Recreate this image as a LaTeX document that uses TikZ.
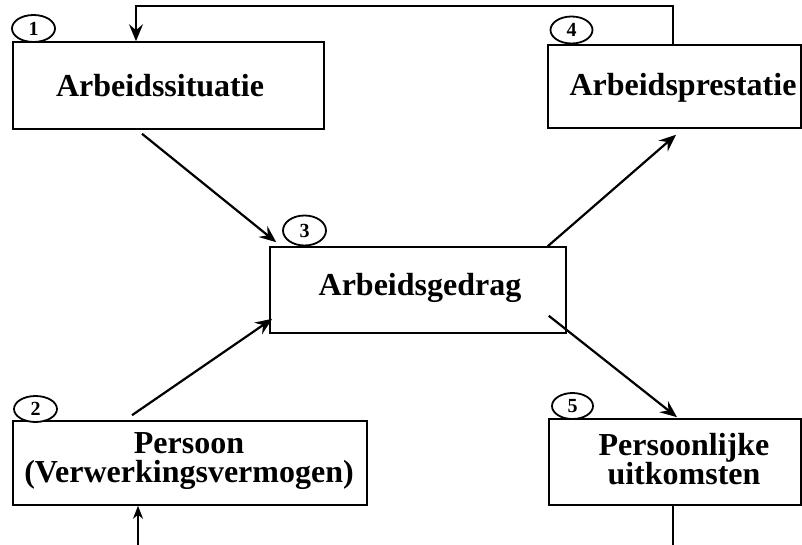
\documentclass[tikz,border=0pt]{standalone}
\usepackage{fontspec}
\setmainfont{Liberation Serif}
\usetikzlibrary{shapes.geometric,arrows.meta}
\begin{document}
\begin{tikzpicture}[x=1pt,y=-1pt,
  box/.style={draw,line width=1.6pt,rectangle,inner sep=0pt},
  lbl/.style={font=\fontsize{32}{30}\selectfont\bfseries,anchor=base,inner sep=0pt},
  num/.style={draw,line width=1.8pt,ellipse,fill=white,inner sep=0pt,font=\fontsize{20}{20}\selectfont\bfseries},
  arr/.style={line width=2.2pt,-{Stealth[length=17pt,width=14pt,inset=6pt]}},
  fb/.style={line width=1.9pt}]
\useasboundingbox (0,0) rectangle (802,545);
% boxes
\node[box,minimum width=311pt,minimum height=87pt] (b1) at (168.5,85.5) {};
\node[box,minimum width=253pt,minimum height=83pt] (b4) at (674.5,86.5) {};
\node[box,minimum width=296pt,minimum height=86pt] (b3) at (418,290) {};
\node[box,minimum width=354pt,minimum height=84pt] (b2) at (190,463) {};
\node[box,minimum width=252pt,minimum height=86pt] (b5) at (675,462) {};
% labels
\node[lbl] (l1) at (160,97) {Arbeidssituatie};
\node[lbl] (l4) at (683,96) {Arbeidsprestatie};
\node[lbl] (l3) at (420,295) {Arbeidsgedrag};
\node[lbl] (l2a) at (189,453) {Persoon};
\node[lbl] (l2b) at (189,482) {(Verwerkingsvermogen)};
\node[lbl] (l5a) at (684,455) {Persoonlijke};
\node[lbl] (l5b) at (684,484) {uitkomsten};
% numbers
\node[num,minimum width=43pt,minimum height=27pt] (n1) at (33.5,28.5) {1};
\node[num,minimum width=42pt,minimum height=27pt] (n4) at (571.5,30) {4};
\node[num,minimum width=43pt,minimum height=30pt] (n3) at (304.5,230.5) {3};
\node[num,minimum width=43pt,minimum height=26pt] (n2) at (35.5,409) {2};
\node[num,minimum width=41pt,minimum height=26pt] (n5) at (572.5,406) {5};
% arrows
\draw[arr] ([shift={(-26.5,4)}]b1.south) -- ([shift={(7,-4)}]b3.north west);
\draw[arr] ([shift={(-58,-5)}]b2.north) -- ([shift={(3,-15)}]b3.south west);
\draw[arr] ([shift={(-19,0)}]b3.north east) -- ([shift={(1.5,6)}]b4.south);
\draw[arr] ([shift={(-18,-18)}]b3.south east) -- ([shift={(2,-1)}]b5.north);
% feedback loops
\draw[fb,-{Stealth[length=17pt,width=14pt,inset=6pt]}] ([xshift=-1.5pt]b4.north) -- ++(0,-38) -| ([xshift=-32.5pt]b1.north);
\draw[fb,-{Stealth[length=13pt,width=10pt,inset=4pt]}] ([xshift=-2pt]b5.south) -- ++(0,42) -| ([xshift=-52pt]b2.south);
\end{tikzpicture}
\end{document}
